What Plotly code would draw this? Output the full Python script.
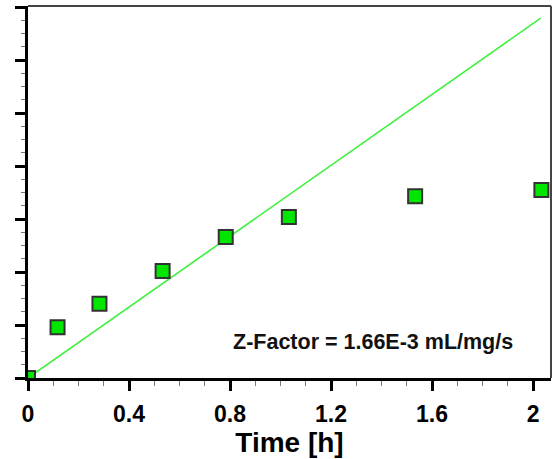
import plotly.graph_objects as go

# Data (time in hours, response in arbitrary units where one major y tick = 1)
time_h = [0.0, 0.117, 0.283, 0.533, 0.783, 1.033, 1.533, 2.033]
response = [0.0, 0.96, 1.40, 2.02, 2.66, 3.04, 3.43, 3.55]
fit_x = [0.0, 2.03]
fit_y = [0.0, 6.79]
annotation_text = "Z-Factor = 1.66E-3 mL/mg/s"
x_title = "Time [h]"

FONT = "Liberation Sans, Arial, sans-serif"

fig = go.Figure()
fig.add_trace(go.Scatter(
    x=fit_x, y=fit_y, mode="lines",
    line=dict(color="#3cf03c", width=1.6),
    showlegend=False, hoverinfo="skip",
))
fig.add_trace(go.Scatter(
    x=time_h, y=response, mode="markers",
    marker=dict(symbol="square", size=14, color="#00e600",
                line=dict(color="#333333", width=2)),
    showlegend=False, cliponaxis=True,
))

fig.update_layout(
    width=552, height=459,
    margin=dict(l=28, r=1, t=6, b=81, autoexpand=False),
    paper_bgcolor="white", plot_bgcolor="white",
    font=dict(family=FONT, color="black"),
    xaxis=dict(
        range=[0, 2.071], dtick=0.4, tick0=0,
        showgrid=False, zeroline=False, automargin=False,
        showline=True, linecolor="black", linewidth=3,
        ticks="outside", ticklen=10, tickwidth=3, tickcolor="black",
        minor=dict(dtick=0.1, ticks="outside", ticklen=5, tickwidth=1, tickcolor="#777777"),
        tickfont=dict(family=FONT, size=23, color="black", weight="bold"),
        ticklabelstandoff=3,
        title=dict(text="<b>%s</b>" % x_title, font=dict(family=FONT, size=28, color="black"), standoff=0),
    ),
    yaxis=dict(
        range=[0, 7.02], dtick=1, tick0=0,
        showgrid=False, zeroline=False, automargin=False,
        showline=True, linecolor="black", linewidth=3,
        ticks="outside", ticklen=10, tickwidth=3, tickcolor="black",
        minor=dict(dtick=0.25, ticks="outside", ticklen=4, tickwidth=1, tickcolor="#777777"),
        showticklabels=False,
    ),
    shapes=[
        dict(type="line", xref="paper", yref="paper", x0=0, x1=1, y0=1, y1=1,
             line=dict(color="#444444", width=2)),
        dict(type="line", xref="paper", yref="paper", x0=1, x1=1, y0=0, y1=1,
             line=dict(color="#444444", width=2)),
    ],
    annotations=[
        dict(text="<b>%s</b>" % annotation_text, xref="paper", yref="paper",
             x=0.659, y=0.097, xanchor="center", yanchor="middle", showarrow=False,
             font=dict(family=FONT, size=21.5, color="#111111")),
    ],
)

fig.write_html("out.html", config={"displayModeBar": False},
               post_script="document.body.style.margin='0';document.body.style.overflow='hidden';")
